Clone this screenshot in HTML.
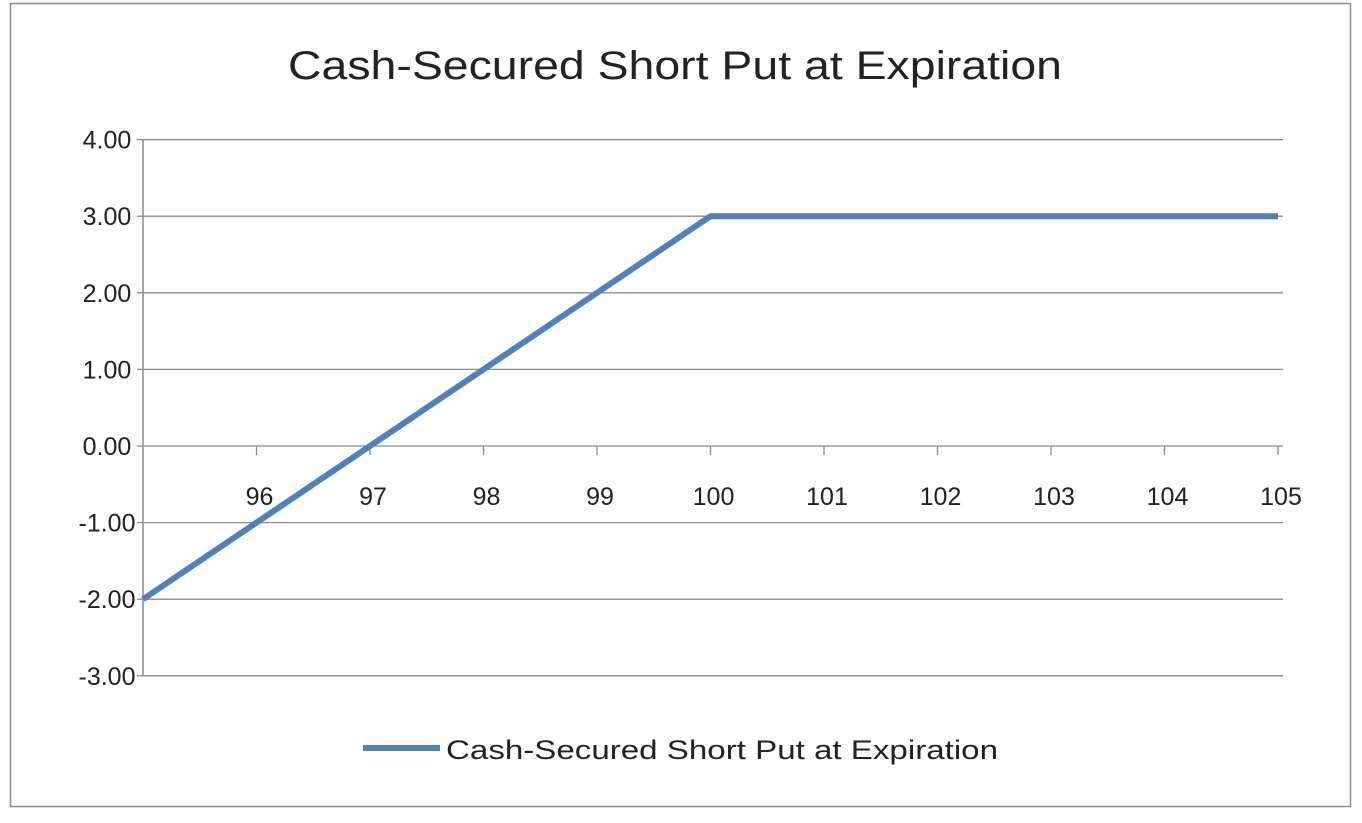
<!DOCTYPE html>
<html><head><meta charset="utf-8"><style>
body{margin:0;background:#fff;width:1362px;height:818px;overflow:hidden;font-family:"Liberation Sans",sans-serif}
</style></head><body>
<svg width="1362" height="818">
<rect x="10.5" y="3.5" width="1340" height="803" fill="#fff" stroke="#8c8c8c" stroke-width="1.5"/>
<text x="288" y="79" font-size="40" fill="#222" textLength="774" lengthAdjust="spacingAndGlyphs">Cash-Secured Short Put at Expiration</text>
<g id="grid"></g><g id="axes"></g><g id="series"></g>
<line x1="363" y1="748" x2="440" y2="748" stroke="#4f81bd" stroke-width="6"/>
<text x="446" y="759" font-size="27" fill="#222" textLength="552" lengthAdjust="spacingAndGlyphs">Cash-Secured Short Put at Expiration</text>
</svg>
<script>
const xs=[95,96,97,98,99,100,101,102,103,104,105];
const ys=[-2,-1,0,1,2,3,3,3,3,3,3];
const yTicks=[4,3,2,1,0,-1,-2,-3];
const xLabels=[96,97,98,99,100,101,102,103,104,105];
const NS="http://www.w3.org/2000/svg";
const X=v=>143+(v-95)*113.5;
const Y=v=>446-v*76.6;
function mk(t,a,p){const e=document.createElementNS(NS,t);for(const k in a)e.setAttribute(k,a[k]);p.appendChild(e);return e;}
const g=document.getElementById('grid'),ax=document.getElementById('axes'),s=document.getElementById('series');
yTicks.forEach(v=>{
 const l=mk('line',{x1:137,x2:1283,y1:Y(v),y2:Y(v),stroke:'#8c8c8c','stroke-width':1.3},g);
 
 
 const t=mk('text',{x:107,y:Y(v)+9,'text-anchor':'middle','font-size':25,fill:'#222'},ax);
 t.textContent=v.toFixed(2);
 
 
});
const ya=mk('line',{x1:143,x2:143,y1:Y(4),y2:Y(-3),stroke:'#8c8c8c','stroke-width':1.5},ax);


xLabels.forEach(v=>{
 const k=mk('line',{x1:X(v),x2:X(v),y1:446,y2:455,stroke:'#8c8c8c','stroke-width':1.3},ax);
 
 
 const t=mk('text',{x:X(v)+3,y:505,'text-anchor':'middle','font-size':25,fill:'#222'},ax);
 t.textContent=v;
 
 
});
const p=mk('polyline',{points:xs.map((x,i)=>X(x)+','+Y(ys[i])).join(' '),fill:'none',stroke:'#4f81bd','stroke-width':6,'stroke-linejoin':'round'},s);


</script>
</body></html>
